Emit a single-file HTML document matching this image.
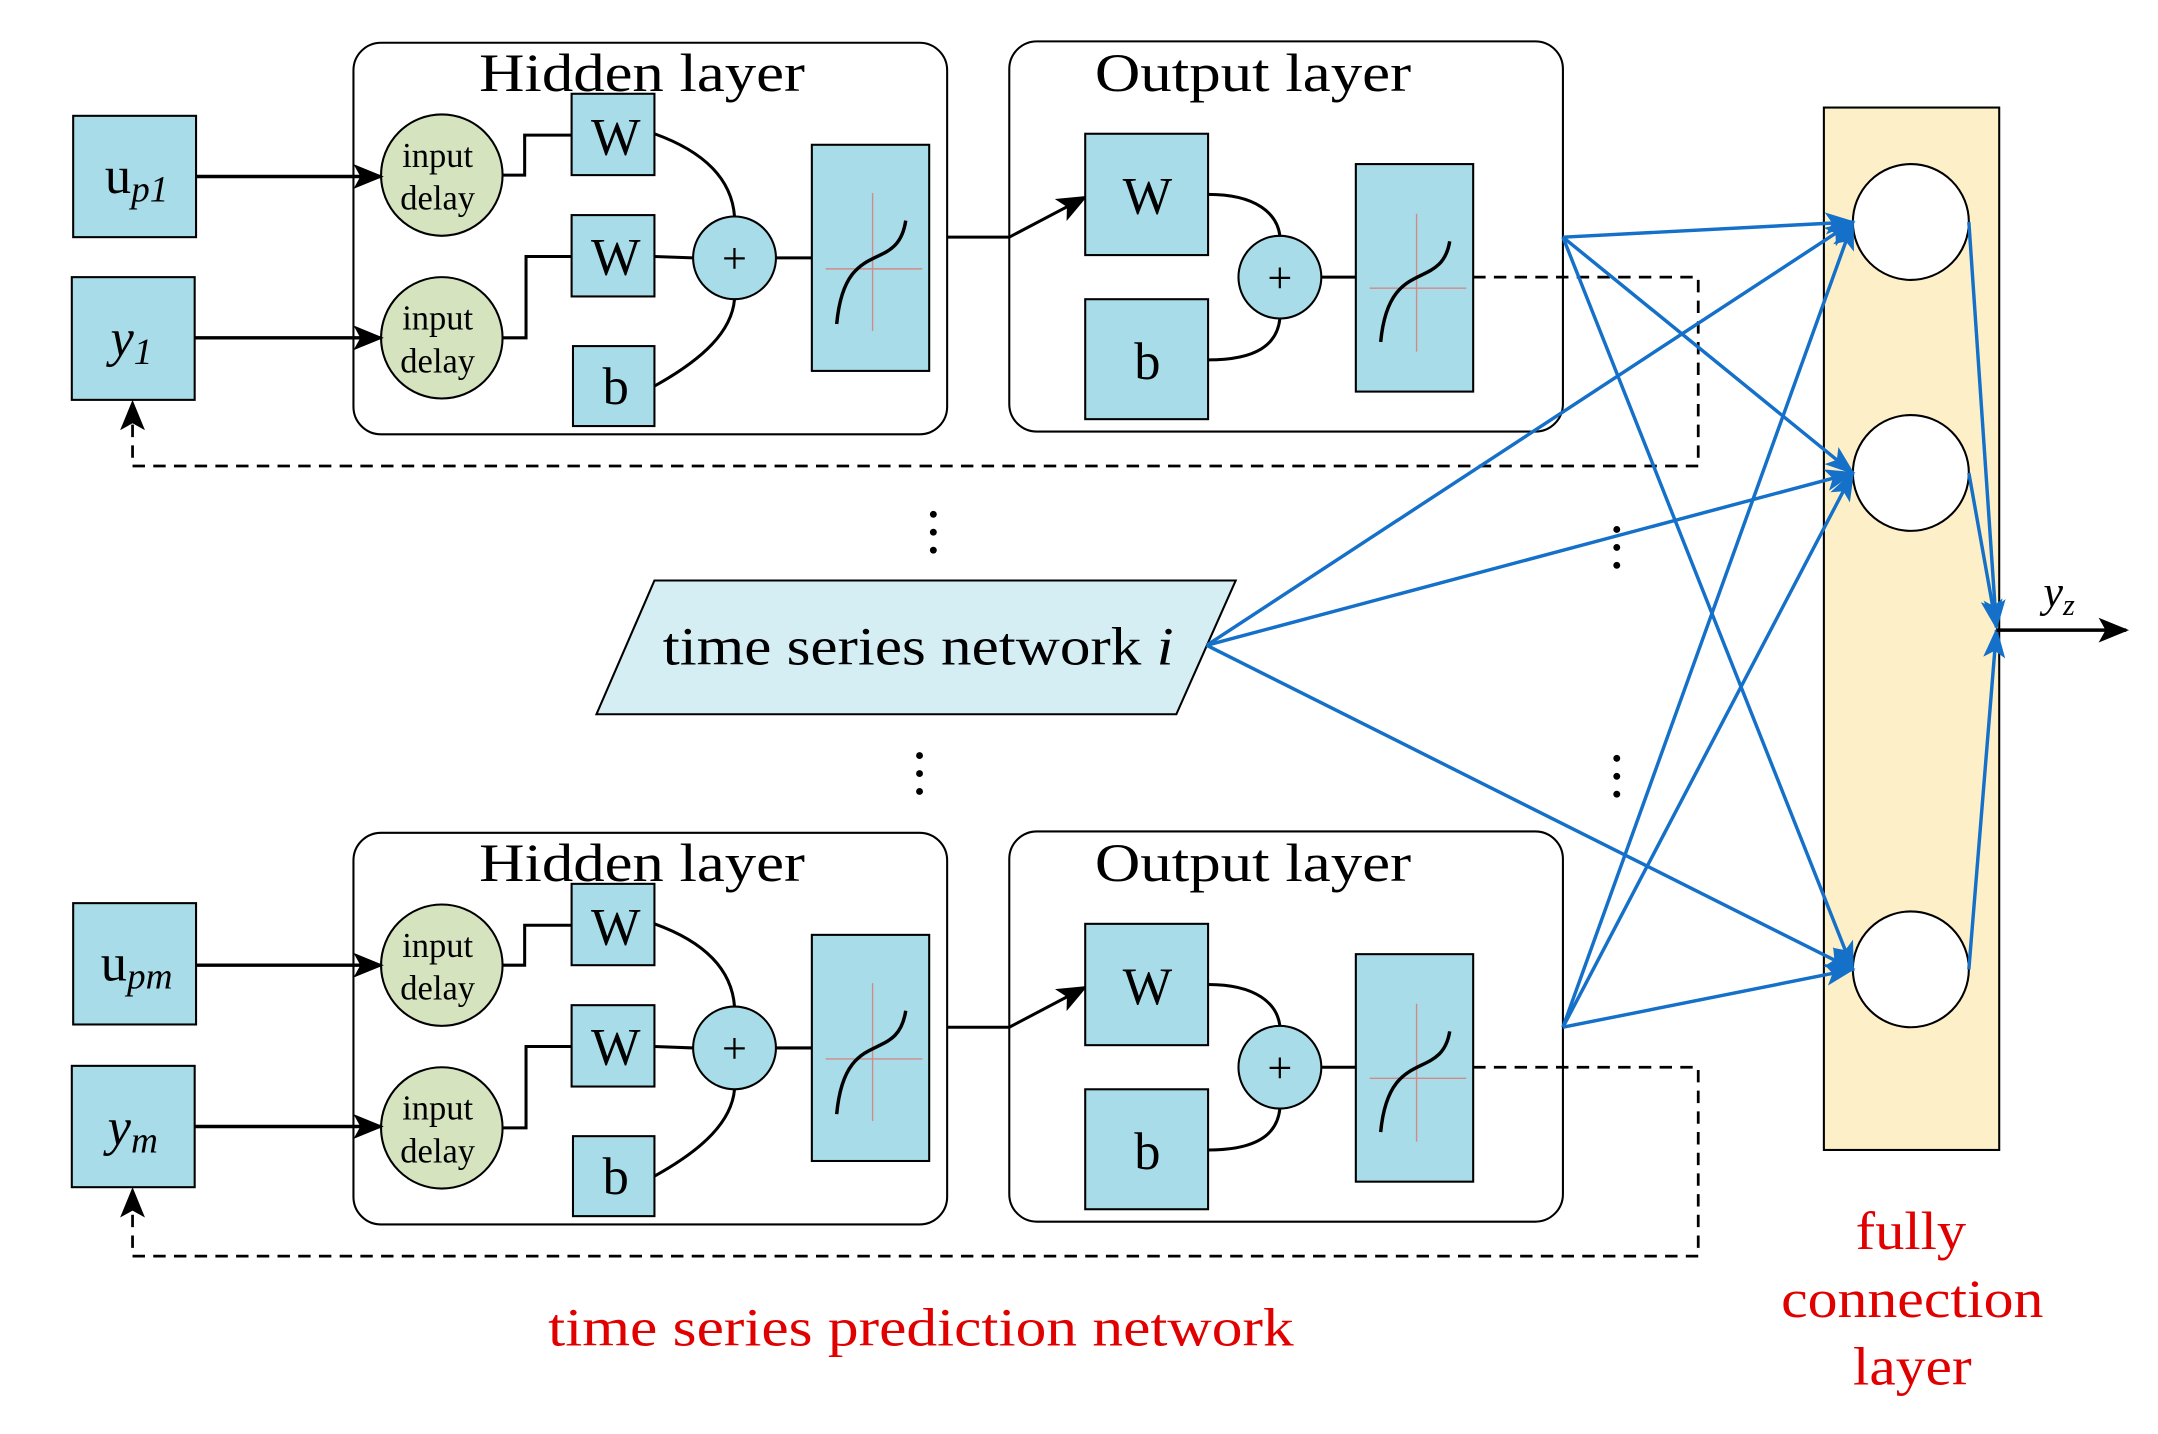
<!DOCTYPE html>
<html><head><style>html,body{margin:0;padding:0;background:#fff}svg{display:block}</style></head><body>
<svg width="2158" height="1434" viewBox="0 0 1563 1040" preserveAspectRatio="none" xmlns="http://www.w3.org/2000/svg" font-family="Liberation Serif, serif">
<defs>
<marker id="akb" markerWidth="22" markerHeight="18" refX="20" refY="9" orient="auto" markerUnits="userSpaceOnUse"><path d="M0,0 L22,9 L0,18 L5,9 Z" fill="#000"/></marker>
<marker id="ab" markerWidth="22" markerHeight="16" refX="20" refY="8" orient="auto" markerUnits="userSpaceOnUse"><path d="M0,0 L22,8 L0,16 L5,8 Z" fill="#1470c8"/></marker>
<g id="net">
<rect x="256" y="31" width="430" height="284" rx="20" fill="#fff" stroke="#000" stroke-width="1.5"/>
<text x="347" y="66" font-size="39" textLength="236" lengthAdjust="spacingAndGlyphs">Hidden layer</text>
<rect x="731" y="30" width="401" height="283" rx="20" fill="#fff" stroke="#000" stroke-width="1.5"/>
<text x="793" y="66" font-size="39" textLength="229" lengthAdjust="spacingAndGlyphs">Output layer</text>
<g stroke="#000" stroke-width="2.2" fill="none">
<path d="M364,127 H380 V98 H414"/>
<path d="M364,245 H381 V186 H414"/>
<path d="M474,97 C510,110 530,130 532,157"/>
<path d="M474,186 L502,187"/>
<path d="M474,280 C510,260 530,240 532,217"/>
<path d="M562,187 H588"/>
<path d="M686,172 H731 L786,143" marker-end="url(#akb)"/>
<path d="M875,141 C910,141 925,155 927,171"/>
<path d="M875,261 C910,261 925,250 927,231"/>
<path d="M957,201 H982"/>
</g>
<g fill="#a8dce8" stroke="#000" stroke-width="1.5">
<rect x="414" y="68" width="60" height="59"/>
<rect x="414" y="156" width="60" height="59"/>
<rect x="415" y="251" width="59" height="58"/>
<rect x="588" y="105" width="85" height="164"/>
<rect x="786" y="97" width="89" height="88"/>
<rect x="786" y="217" width="89" height="87"/>
<rect x="982" y="119" width="85" height="165"/>
<circle cx="532" cy="187" r="30"/>
<circle cx="927" cy="201" r="30"/>
</g>
<g fill="#d5e3bf" stroke="#000" stroke-width="1.5">
<circle cx="320" cy="127" r="44"/><circle cx="320" cy="245" r="44"/>
</g>
<g font-size="25" text-anchor="middle">
<text x="317" y="121">input</text><text x="317" y="152">delay</text>
<text x="317" y="239">input</text><text x="317" y="270">delay</text>
</g>
<g font-size="38" text-anchor="middle">
<text x="446" y="112">W</text><text x="446" y="199">W</text><text x="446" y="293">b</text>
<text x="831" y="155">W</text><text x="831" y="275">b</text>
</g>
<g font-size="32" text-anchor="middle"><text x="532" y="198">+</text><text x="927" y="212">+</text></g>
<g stroke="#d08a8a" stroke-width="1"><path d="M632,140 V240 M598,195 H668"/><path d="M1026,155 V255 M992,209 H1062"/></g>
<g stroke="#000" stroke-width="2.5" fill="none"><path d="M606,235 C612,170 650,200 656,160"/><path d="M1000,248 C1006,185 1044,212 1050,175"/></g>
</g>
</defs>
<use href="#net"/>
<use href="#net" y="573"/>
<g fill="#a8dce8" stroke="#000" stroke-width="1.5">
<rect x="53" y="84" width="89" height="88"/><rect x="52" y="201" width="89" height="89"/>
<rect x="53" y="655" width="89" height="88"/><rect x="52" y="773" width="89" height="88"/>
</g>
<g font-size="38"><text x="76" y="140">u<tspan font-size="27" font-style="italic" dy="6">p1</tspan></text>
<text x="80" y="258" font-style="italic">y<tspan font-size="27" dy="6">1</tspan></text>
<text x="73" y="711">u<tspan font-size="27" font-style="italic" dy="6">pm</tspan></text>
<text x="78" y="830" font-style="italic">y<tspan font-size="27" dy="6">m</tspan></text></g>
<g stroke="#000" stroke-width="2.5" fill="none">
<path d="M142,128 H276" marker-end="url(#akb)"/><path d="M141,245 H276" marker-end="url(#akb)"/>
<path d="M142,700 H276" marker-end="url(#akb)"/><path d="M141,817 H276" marker-end="url(#akb)"/>
</g>
<g stroke="#000" stroke-width="2" fill="none" stroke-dasharray="9,6">
<path d="M1067,201 H1230 V338 H96 V292" marker-end="url(#akb)"/>
<path d="M1067,774 H1230 V911 H96 V863" marker-end="url(#akb)"/>
</g>
<polygon points="432,518 474,421 895,421 852,518" fill="#d4eef4" stroke="#000" stroke-width="1.5"/>
<text x="480" y="482" font-size="39" textLength="370" lengthAdjust="spacingAndGlyphs">time series network <tspan font-style="italic">i</tspan></text>
<g fill="#000">
<circle cx="676" cy="373" r="2.5"/><circle cx="676" cy="386" r="2.5"/><circle cx="676" cy="399" r="2.5"/>
<circle cx="666" cy="548" r="2.5"/><circle cx="666" cy="561" r="2.5"/><circle cx="666" cy="574" r="2.5"/>
<circle cx="1171" cy="384" r="2.5"/><circle cx="1171" cy="397" r="2.5"/><circle cx="1171" cy="410" r="2.5"/>
<circle cx="1171" cy="550" r="2.5"/><circle cx="1171" cy="563" r="2.5"/><circle cx="1171" cy="576" r="2.5"/>
<circle cx="1387" cy="494" r="2.5"/><circle cx="1387" cy="505" r="2.5"/><circle cx="1387" cy="516" r="2.5"/><circle cx="1387" cy="527" r="2.5"/><circle cx="1387" cy="538" r="2.5"/><circle cx="1387" cy="549" r="2.5"/><circle cx="1387" cy="560" r="2.5"/>
</g>
<rect x="1321" y="78" width="127" height="756" fill="#fdf0c8" stroke="#000" stroke-width="1.5"/>
<g fill="#fff" stroke="#000" stroke-width="1.5">
<circle cx="1384" cy="161" r="42"/><circle cx="1384" cy="343" r="42"/><circle cx="1384" cy="703" r="42"/>
</g>
<g stroke="#1470c8" stroke-width="2.5" fill="none">
<path d="M1132,172 L1342,161" marker-end="url(#ab)"/><path d="M1132,172 L1342,343" marker-end="url(#ab)"/><path d="M1132,172 L1342,703" marker-end="url(#ab)"/>
<path d="M1132,745 L1342,161" marker-end="url(#ab)"/><path d="M1132,745 L1342,343" marker-end="url(#ab)"/><path d="M1132,745 L1342,703" marker-end="url(#ab)"/>
<path d="M874,468 L1342,161" marker-end="url(#ab)"/><path d="M874,468 L1342,343" marker-end="url(#ab)"/><path d="M874,468 L1342,703" marker-end="url(#ab)"/>
<path d="M1426,161 L1446,455" marker-end="url(#ab)"/><path d="M1426,343 L1446,455" marker-end="url(#ab)"/><path d="M1426,703 L1446,457" marker-end="url(#ab)"/>
</g>
<path d="M1446,457 H1540" stroke="#000" stroke-width="2.5" marker-end="url(#akb)"/>
<text x="1480" y="440" font-size="32" font-style="italic">y<tspan font-size="22" dy="6">z</tspan></text>
<g fill="#e00000" font-size="39">
<text x="397" y="976" textLength="540" lengthAdjust="spacingAndGlyphs">time series prediction network</text>
<text x="1344" y="906" textLength="80" lengthAdjust="spacingAndGlyphs">fully</text>
<text x="1290" y="955" textLength="190" lengthAdjust="spacingAndGlyphs">connection</text>
<text x="1342" y="1004" textLength="86" lengthAdjust="spacingAndGlyphs">layer</text>
</g>
</svg>
</body></html>
